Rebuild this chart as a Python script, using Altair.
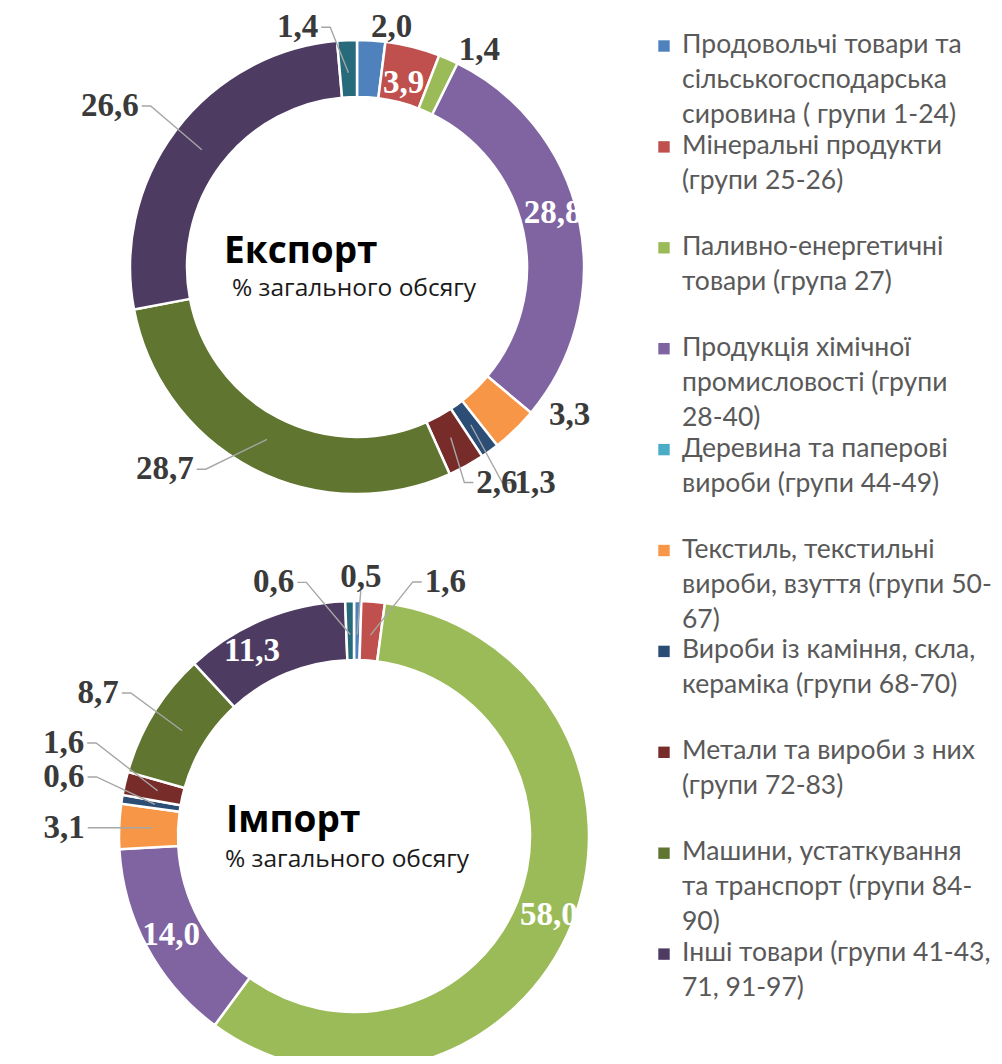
import math
import altair as alt
import pandas as pd

# ---------------- data ----------------
categories = [
    "Продовольчі товари", "Мінеральні продукти", "Паливно-енергетичні товари",
    "Продукція хімічної промисловості", "Деревина та паперові вироби",
    "Текстиль", "Вироби із каміння", "Метали", "Машини", "Інші товари",
    "Інші групи (без легенди)",
]
colors = ["#4F81BD", "#C0504D", "#9BBB59", "#8064A2", "#4BACC6", "#F79646",
          "#2C4D75", "#772C2A", "#5F7530", "#4D3B62", "#276A7C"]

export_values = [2.0, 3.9, 1.4, 28.8, 0.0, 3.3, 1.3, 2.6, 28.7, 26.6, 1.4]
import_values = [0.5, 1.6, 58.0, 14.0, 0.0, 3.1, 0.6, 1.6, 8.7, 11.3, 0.6]

legend_labels = [
    "Продовольчі товари та\nсільськогосподарська\nсировина ( групи 1-24)",
    "Мінеральні продукти\n(групи 25-26)",
    "Паливно-енергетичні\nтовари (група 27)",
    "Продукція хімічної\nпромисловості (групи\n28-40)",
    "Деревина та паперові\nвироби (групи 44-49)",
    "Текстиль, текстильні\nвироби, взуття (групи 50-\n67)",
    "Вироби із каміння, скла,\nкераміка (групи 68-70)",
    "Метали та вироби з них\n(групи 72-83)",
    "Машини, устаткування\nта транспорт (групи 84-\n90)",
    "Інші товари (групи 41-43,\n71, 91-97)",
]

titles = ["Експорт", "Імпорт"]
subtitle = "% загального обсягу"

# ---------------- layout (page pixels) ----------------
M = 8  # page margin
W, H = 986, 1048
donuts = {
    "export": dict(cx=357, cy=267, r_out=227, r_in=170),
    "import": dict(cx=354, cy=836, r_out=235, r_in=176),
}
# label placement: (kind, angle offset deg, radius)
export_label_style = [("out", 4.6, 242), ("in", 0, 190), ("out", 5.7, 249), ("in", -3.5, 203), None,
                      ("out", -11.1, 259), ("lead", -3.7, 280), ("lead", -4.2, 257),
                      ("lead", 16, 279), ("lead", -4, 295), ("lead", -11.4, 247)]
import_label_style = [("lead", 0.6, 259), ("lead", 15.1, 270), ("in", 0, 210), ("in", 0, 208), None,
                      ("lead", -0.7, 290), ("lead", 2.5, 296), ("lead", 4.8, 305),
                      ("lead", -2.3, 293), ("in", -6.4, 211), ("lead", -16.5, 266)]
LABEL_FS = 33

arc_rows, lab_rows, lead_rows = [], [], []
for name, vals, styles in [("export", export_values, export_label_style),
                           ("import", import_values, import_label_style)]:
    d = donuts[name]
    total = sum(vals)
    cum = 0.0
    for i, (cat, v, st) in enumerate(zip(categories, vals, styles)):
        arc_rows.append(dict(chart=name, idx=i, cat=cat, value=v))
        mid = (cum + v / 2) / total * 360.0
        cum += v
        if st is None or v <= 0:
            continue
        kind, dth, r = st
        th = math.radians(mid + dth)
        lx = d["cx"] + r * math.sin(th)
        ly = d["cy"] - r * math.cos(th)
        txt = f"{v:.1f}".replace(".", ",")
        lab_rows.append(dict(chart=name, x=lx - M, y=ly - M, text=txt,
                             tc="white" if kind == "in" else "#3A3A3A"))
        if kind == "lead":
            rm = (d["r_in"] + d["r_out"]) / 2 - 4
            px = d["cx"] + rm * math.sin(math.radians(mid))
            py = d["cy"] - rm * math.cos(math.radians(mid))
            w = (sum(c.isdigit() for c in txt) * 0.5 + 0.25) * LABEL_FS
            key = f"{name}-{i}"
            if lx < px - 15:
                pts = [(lx + w / 2 + 3, ly), (lx + w / 2 + 12, ly), (px, py)]
            elif lx > px + 15:
                pts = [(lx - w / 2 - 3, ly), (lx - w / 2 - 12, ly), (px, py)]
            else:
                pts = [(lx, ly + LABEL_FS * 0.42), (px, py)]
            for k, (qx, qy) in enumerate(pts):
                lead_rows.append(dict(key=key, k=k, x=qx - M, y=qy - M))

arcs_df = pd.DataFrame(arc_rows)
labels_df = pd.DataFrame(lab_rows)
leads_df = pd.DataFrame(lead_rows)

color_scale = alt.Scale(domain=categories, range=colors)

layers = []
for name in ["export", "import"]:
    d = donuts[name]
    layers.append(
        alt.Chart(arcs_df[arcs_df.chart == name]).transform_filter("datum.value > 0")
        .mark_arc(radius=d["r_out"], radius2=d["r_in"], stroke="white", strokeWidth=2.5)
        .encode(
            theta=alt.Theta("value:Q", stack=True),
            order=alt.Order("idx:Q"),
            color=alt.Color("cat:N", scale=color_scale, legend=None),
            x=alt.value(d["cx"] - M), y=alt.value(d["cy"] - M),
        )
    )

leads = alt.Chart(leads_df).mark_line(color="#A6A6A6", strokeWidth=1.4).encode(
    x=alt.X("x:Q", scale=None, axis=None),
    y=alt.Y("y:Q", scale=None, axis=None),
    detail="key:N", order="k:Q",
)

labels = alt.Chart(labels_df).mark_text(
    font="Liberation Serif", fontWeight="bold", fontSize=LABEL_FS,
    align="center", baseline="middle",
).encode(
    x=alt.X("x:Q", scale=None, axis=None),
    y=alt.Y("y:Q", scale=None, axis=None),
    text="text:N",
    color=alt.Color("tc:N", scale=None),
)

# center titles
title_layers = []
for t, (tx, ty), (sx, sy) in zip(titles, [(224, 263), (226, 832)], [(232, 296), (225, 867)]):
    title_layers.append(
        alt.Chart(pd.DataFrame({"t": [t]})).mark_text(
            font="Open Sans", fontWeight="bold", fontSize=37, align="left",
            baseline="alphabetic", color="#000000"
        ).encode(text="t:N", x=alt.value(tx - M), y=alt.value(ty - M))
    )
    title_layers.append(
        alt.Chart(pd.DataFrame({"t": [subtitle]})).mark_text(
            font="Open Sans", fontSize=24.5, align="left", baseline="alphabetic", color="#1A1A1A"
        ).encode(text="t:N", x=alt.value(sx - M), y=alt.value(sy - M))
    )

# legend
leg_df = pd.DataFrame({
    "cat": categories[:10],
    "label": legend_labels,
    "i": list(range(10)),
})
leg_df["ys"] = 46 + leg_df["i"] * 100.9 - M
leg_df["yt"] = 53 + leg_df["i"] * 100.9 - M

leg_sq = alt.Chart(leg_df).mark_square(size=130, opacity=1).encode(
    x=alt.value(664 - M),
    y=alt.Y("ys:Q", scale=None, axis=None),
    color=alt.Color("cat:N", scale=color_scale, legend=None),
)
leg_tx = alt.Chart(leg_df).mark_text(
    font="Lato", fontSize=26.5, align="left", baseline="alphabetic",
    lineBreak="\n", lineHeight=35, color="#595959",
).encode(
    x=alt.value(682 - M),
    y=alt.Y("yt:Q", scale=None, axis=None),
    text="label:N",
)

chart = alt.layer(*layers, leads, labels, *title_layers, leg_sq, leg_tx).resolve_scale(
    theta="independent"
).properties(
    width=W, height=H, autosize="none", padding=0
).configure_view(stroke=None)

chart.save("out.html", embed_options={"renderer": "svg", "actions": False})
